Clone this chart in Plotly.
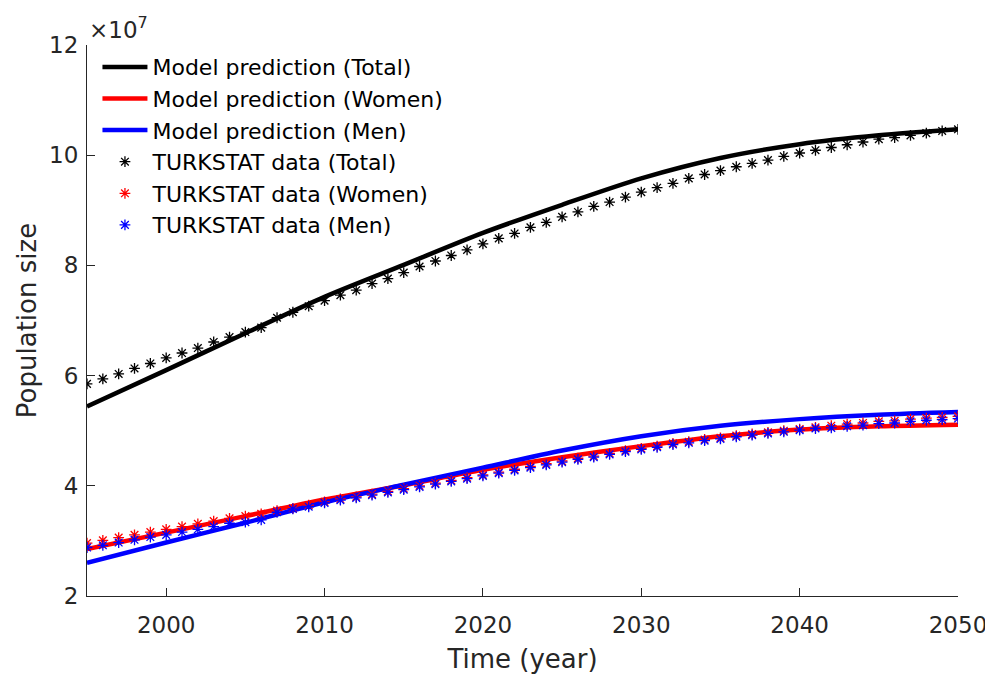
import plotly.graph_objects as go

# TURKSTAT yearly data (units of 1e7 people)
years_data = list(range(1995, 2051))

total_data = [5.85, 5.94, 6.03, 6.13, 6.22, 6.32, 6.41, 6.50, 6.61, 6.70,
              6.79, 6.87, 7.05, 7.15, 7.26, 7.36, 7.46, 7.55, 7.67, 7.76,
              7.87, 7.98, 8.08, 8.18, 8.28, 8.39, 8.49, 8.58, 8.69, 8.78,
              8.88, 8.97, 9.07, 9.15, 9.24, 9.33, 9.41, 9.49, 9.58, 9.65,
              9.72, 9.79, 9.85, 9.91, 9.98, 10.04, 10.09, 10.14, 10.19, 10.24,
              10.29, 10.32, 10.36, 10.40, 10.44, 10.47]

women_data = [2.96, 3.01, 3.06, 3.11, 3.16, 3.21, 3.26, 3.31, 3.36, 3.41,
              3.45, 3.49, 3.55, 3.59, 3.65, 3.71, 3.76, 3.80, 3.85, 3.90,
              3.95, 4.00, 4.05, 4.10, 4.15, 4.20, 4.25, 4.30, 4.35, 4.40,
              4.45, 4.50, 4.54, 4.59, 4.64, 4.68, 4.72, 4.77, 4.80, 4.84,
              4.87, 4.91, 4.94, 4.97, 5.00, 5.03, 5.06, 5.09, 5.12, 5.14,
              5.17, 5.18, 5.21, 5.23, 5.24, 5.26]

men_data = [2.88, 2.92, 2.97, 3.02, 3.07, 3.11, 3.16, 3.21, 3.26, 3.32,
            3.34, 3.38, 3.52, 3.58, 3.62, 3.69, 3.74, 3.78, 3.83, 3.88,
            3.93, 3.98, 4.03, 4.08, 4.13, 4.18, 4.23, 4.28, 4.33, 4.38,
            4.43, 4.48, 4.52, 4.57, 4.62, 4.66, 4.70, 4.75, 4.78, 4.82,
            4.85, 4.89, 4.92, 4.95, 4.98, 5.01, 5.04, 5.05, 5.08, 5.10,
            5.13, 5.14, 5.17, 5.19, 5.20, 5.22]

# model curves, read every 5 years
years_model = [1995, 2000, 2005, 2010, 2015, 2020, 2025, 2030, 2035, 2040, 2045, 2050]
total_model = [5.44, 6.10, 6.77, 7.43, 8.01, 8.59, 9.10, 9.58, 9.95, 10.20, 10.36, 10.47]
women_model = [2.85, 3.15, 3.45, 3.75, 4.01, 4.29, 4.52, 4.72, 4.90, 5.02, 5.08, 5.11]
men_model = [2.60, 2.97, 3.33, 3.70, 4.02, 4.33, 4.64, 4.90, 5.09, 5.21, 5.29, 5.34]

x_ticks = [2000, 2010, 2020, 2030, 2040, 2050]
y_ticks = [2, 4, 6, 8, 10, 12]

FONT = "DejaVu Sans"
AXIS_COLOR = "#262626"


def addModelLine(fig, y, color, name):
    fig.add_trace(go.Scatter(
        x=years_model, y=y, mode="lines", name=name,
        line=dict(color=color, width=4.5, shape="spline", smoothing=0.8),
    ))


def addDataStars(fig, y, color, name):
    fig.add_trace(go.Scatter(
        x=years_data, y=y, mode="markers", name=name,
        marker=dict(symbol="asterisk-open", size=9, color=color,
                    line=dict(color=color, width=1.3)),
    ))


fig = go.Figure()
addModelLine(fig, total_model, "black", "Model prediction (Total)")
addModelLine(fig, women_model, "#FF0000", "Model prediction (Women)")
addModelLine(fig, men_model, "#0000FF", "Model prediction (Men)")
addDataStars(fig, total_data, "black", "TURKSTAT data (Total)")
addDataStars(fig, women_data, "#FF0000", "TURKSTAT data (Women)")
addDataStars(fig, men_data, "#0000FF", "TURKSTAT data (Men)")

fig.update_xaxes(
    range=[1995, 2050], tickvals=x_ticks, ticks="inside", ticklen=8,
    tickcolor=AXIS_COLOR, showline=True, linecolor=AXIS_COLOR, linewidth=1,
    showgrid=False, zeroline=False, ticklabelstandoff=8,
    automargin=False, ticklabeloverflow="allow",
    tickfont=dict(family=FONT, size=23, color=AXIS_COLOR),
    title=dict(text="Time (year)", font=dict(family=FONT, size=26, color=AXIS_COLOR), standoff=13),
)
fig.update_yaxes(
    range=[2, 12], tickvals=y_ticks, ticks="inside", ticklen=8,
    tickcolor=AXIS_COLOR, showline=True, linecolor=AXIS_COLOR, linewidth=1,
    showgrid=False, zeroline=False, ticklabelstandoff=3,
    tickfont=dict(family=FONT, size=23, color=AXIS_COLOR),
    title=dict(text="Population size", font=dict(family=FONT, size=26, color=AXIS_COLOR), standoff=5),
)

# exponent label like matlab
fig.add_annotation(
    text="×10<sup>7</sup>", xref="paper", yref="paper", x=0, y=1,
    xanchor="left", yanchor="bottom", showarrow=False, yshift=0, xshift=0,
    font=dict(family=FONT, size=23, color=AXIS_COLOR),
)

# page has an 8px body margin, so the figure is a bit smaller than the window
fig.update_layout(
    width=985, height=675,
    margin=dict(l=79, r=35, t=37, b=87),
    plot_bgcolor="white", paper_bgcolor="white",
    showlegend=True,
    legend=dict(
        x=0.012, y=0.998, xanchor="left", yanchor="top",
        bgcolor="rgba(0,0,0,0)", itemwidth=45, tracegroupgap=0,
        font=dict(family=FONT, size=22, color="black"),
    ),
)

fig.write_html("out.html")
